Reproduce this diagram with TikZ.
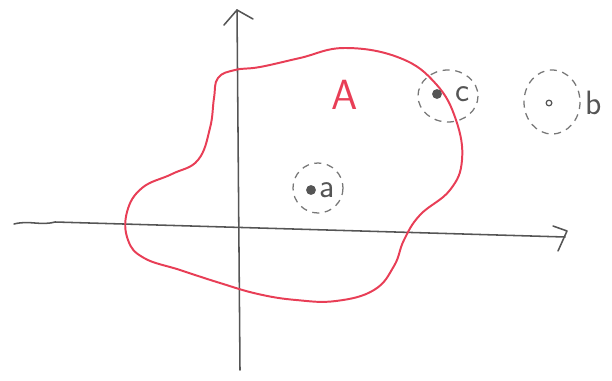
\documentclass[tikz,border=0pt]{standalone}
\usepackage{tikz}
\usetikzlibrary{arrows.meta, positioning, calc}
\definecolor{pencil}{RGB}{85, 85, 85}
\definecolor{setred}{RGB}{232, 62, 86}

\begin{document}
\begin{tikzpicture}[
    x=0.025cm, y=-0.025cm,
    axis/.style={pencil, line width=1.1pt, line cap=round, line join=round},
    blob/.style={setred, line width=1.4pt},
    ring/.style={pencil!80, dashed, dash pattern=on 5pt off 4pt, line width=0.9pt},
    pt/.style={circle, fill=pencil, inner sep=0pt, minimum size=7pt},
    hollowpt/.style={circle, draw=pencil, line width=0.9pt, inner sep=0pt, minimum size=4pt},
    lbl/.style={pencil, font=\fontsize{24pt}{26pt}\selectfont\sffamily, inner sep=1pt}
]
    \useasboundingbox (0,0) rectangle (612,381);

    % --- AXES ---
    \draw[axis] (14,224) .. controls (30,220) and (40,226) .. (55,222)
        -- (565,237);
    \draw[axis] (553,226) -- (567,231) -- (558,251);
    \draw[axis] (240,370) -- (237,10);
    \draw[axis] (224,25) -- (237,10) -- (253,19);

    % --- SET A ---
    \draw[blob] plot[smooth cycle, tension=0.7] coordinates {
        (218,78) (235,70) (260,67) (300,58) (345,48) (400,58) (436,84) (456,120)
        (462,160) (450,190) (420,215) (404,240) (394,266) (374,290)
        (336,301) (296,300) (258,294) (220,283) (180,270) (144,258)
        (128,240) (127,212) (142,188) (172,174) (198,160) (210,128) (214,98)};
    \node[setred, font=\fontsize{30pt}{32pt}\selectfont\sffamily] (setA) at (345,95) {A};

    % --- POINTS ---
    \draw[ring] (318,188) circle (25);
    \node[pt] (a) at (311,190) {};
    \node[lbl, right=1pt of a] (alabel) {a};

    \draw[ring] (448,96) ellipse (30 and 26);
    \node[pt] (c) at (437,94) {};
    \node[lbl, right=8pt of c] (clabel) {c};

    \draw[ring] (552,102) ellipse (28 and 32);
    \node[hollowpt] (b) at (549,103) {};
    \node[lbl, right=22pt of b] (blabel) {b};

\end{tikzpicture}
\end{document}
